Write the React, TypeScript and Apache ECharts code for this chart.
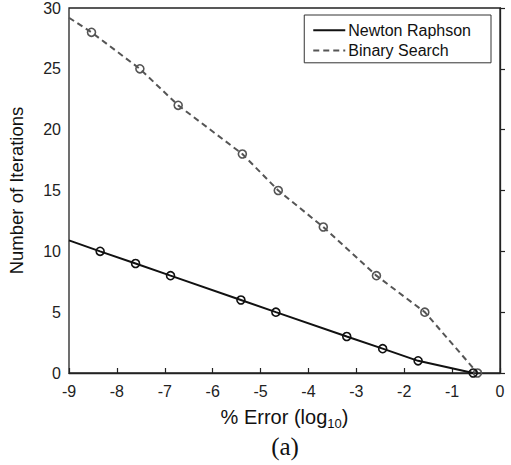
import React, { useEffect, useRef } from "react";
import * as echarts from "echarts";

const xTicks = [-9, -8, -7, -6, -5, -4, -3, -2, -1, 0];
const yTicks = [0, 5, 10, 15, 20, 25, 30];

const newtonX = [-9, -8.35, -7.61, -6.88, -5.41, -4.68, -3.2, -2.45, -1.71, -0.56];
const newtonY = [10.9, 10, 9, 8, 6, 5, 3, 2, 1, 0];

const binaryX = [-9, -8.53, -7.52, -6.72, -5.38, -4.63, -3.69, -2.58, -1.57, -0.47];
const binaryY = [29.2, 28, 25, 22, 18, 15, 12, 8, 5, 0];

const seriesNames = ["Newton Raphson", "Binary Search"];

const FONT = "'Liberation Sans', Arial, Helvetica, sans-serif";

function toData(xs: number[], ys: number[]) {
  // first point is where the line enters at the left edge (no marker)
  return xs.map((x, i) =>
    i === 0 ? { value: [x, ys[i]], symbol: "none" } : { value: [x, ys[i]] }
  );
}

export default function App() {
  const ref = useRef<HTMLDivElement>(null);
  useEffect(() => {
    if (!ref.current) return;
    const chart = echarts.init(ref.current, null, { renderer: "svg" });
    const axisLineStyle = { color: "#222", width: 1.3 };
    const tickStyle = { color: "#222", width: 1.2 };
    const nB = "#111";
    const gB = "#555";
    chart.setOption({
      animation: false,
      backgroundColor: "#fff",
      grid: {
        left: 69,
        right: 11,
        top: 8,
        bottom: 92,
        containLabel: false,
        outerBoundsMode: "none",
        show: true,
        borderColor: "#222",
        borderWidth: 1.3,
        backgroundColor: "rgba(0,0,0,0)",
      },
      legend: {
        orient: "vertical",
        right: 20,
        top: 15,
        data: seriesNames,
        itemWidth: 32,
        itemHeight: 18,
        itemGap: 4,
        padding: [7, 20, 4, 8],
        borderColor: "#333",
        borderWidth: 1,
        backgroundColor: "#fff",
        itemStyle: { opacity: 0 },
        textStyle: { color: "#111", fontSize: 16, fontFamily: FONT, padding: [0, 0, 0, -2] },
      },
      xAxis: {
        type: "value",
        min: -9,
        max: 0,
        interval: 1,
        position: "bottom",
        axisLine: { show: true, lineStyle: axisLineStyle },
        axisTick: { show: true, inside: true, length: 5, lineStyle: tickStyle },
        splitLine: { show: false },
        axisLabel: {
          color: "#222",
          fontSize: 16,
          fontFamily: FONT,
          margin: 10,
          inside: false,
          formatter: (v: number) => (xTicks.includes(v) ? String(v) : ""),
        },
        name: "% Error (log{sub|10})",
        nameLocation: "middle",
        nameGap: 30,
        nameTextStyle: {
          color: "#111",
          fontSize: 20,
          fontFamily: FONT,
          rich: { sub: { fontSize: 13, fontFamily: FONT, color: "#111", padding: [14, 0, 0, 0] } },
        },
      },
      yAxis: {
        type: "value",
        min: 0,
        max: 30,
        interval: 5,
        position: "left",
        axisLine: { show: true, lineStyle: axisLineStyle },
        axisTick: { show: true, inside: true, length: 5, lineStyle: tickStyle },
        splitLine: { show: false },
        axisLabel: {
          color: "#222",
          fontSize: 16,
          fontFamily: FONT,
          margin: 8,
          inside: false,
          formatter: (v: number) => (yTicks.includes(v) ? String(v) : ""),
        },
        name: "Number of Iterations",
        nameLocation: "middle",
        nameGap: 43,
        nameTextStyle: { color: "#111", fontSize: 18.5, fontFamily: FONT },
      },
      series: [
        {
          name: seriesNames[0],
          type: "line",
          data: toData(newtonX, newtonY),
          symbol: "circle",
          symbolSize: 8,
          itemStyle: { color: "rgba(0,0,0,0)", borderColor: nB, borderWidth: 1.6 },
          lineStyle: { color: nB, width: 2 },
          emphasis: { disabled: true },
          z: 3,
        },
        {
          name: seriesNames[1],
          type: "line",
          data: toData(binaryX, binaryY),
          symbol: "circle",
          symbolSize: 8,
          itemStyle: { color: "rgba(0,0,0,0)", borderColor: gB, borderWidth: 1.6 },
          lineStyle: { color: gB, width: 2, type: [6, 4] },
          emphasis: { disabled: true },
          z: 2,
        },
      ],
      graphic: [
        {
          type: "text",
          x: 285,
          y: 446,
          style: {
            text: "(a)",
            font: "25px 'Liberation Serif', 'Times New Roman', serif",
            fill: "#111",
            textAlign: "center",
            textVerticalAlign: "middle",
          },
        },
      ],
    });
    return () => chart.dispose();
  }, []);
  return (
    <div
      ref={ref}
      style={{ width: 511, height: 465, position: "fixed", left: 0, top: 0 }}
    />
  );
}
